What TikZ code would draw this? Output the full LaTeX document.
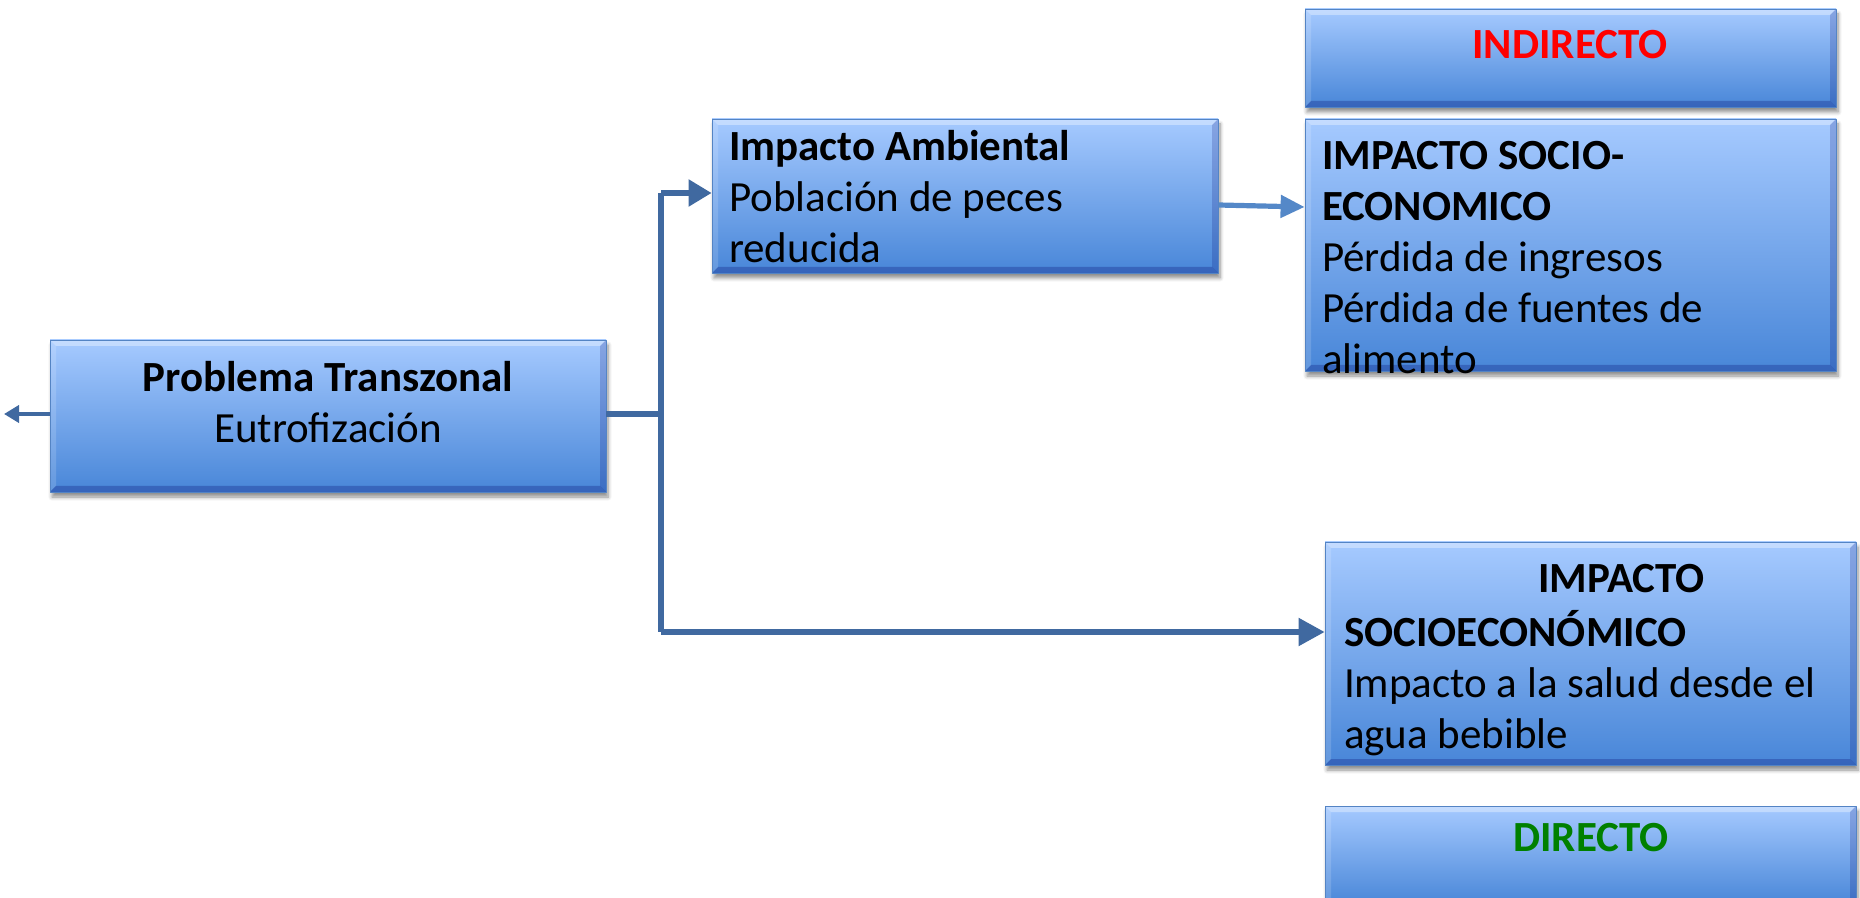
\documentclass[tikz,border=0pt]{standalone}
\usepackage{fontspec}
\setmainfont{Carlito}
\usetikzlibrary{arrows.meta,shadows.blur}
\definecolor{boxtop}{RGB}{166,202,255}
\definecolor{boxbot}{RGB}{72,134,216}
\definecolor{boxedge}{RGB}{84,132,196}
\definecolor{linkblue}{RGB}{64,105,160}
\definecolor{linkpale}{RGB}{84,136,200}
\definecolor{txtred}{RGB}{255,0,0}
\definecolor{txtgreen}{RGB}{0,128,0}
\begin{document}
\begin{tikzpicture}[x=0.5pt, y=-0.5pt, line join=round, >=Triangle,
		box/.style={rectangle, draw=boxedge, line width=0.4pt, inner sep=0pt,
			top color=boxtop, bottom color=boxbot,
			blur shadow={shadow xshift=1pt, shadow yshift=-2.5pt, shadow opacity=45, shadow blur steps=6},
			path picture={
				\fill[white,opacity=.35] (path picture bounding box.north west) -- (path picture bounding box.north east)
				-- ([xshift=-3pt,yshift=-3pt]path picture bounding box.north east) -- ([xshift=3pt,yshift=-3pt]path picture bounding box.north west) -- cycle;
				\fill[white,opacity=.15] (path picture bounding box.north west) -- (path picture bounding box.south west)
				-- ([xshift=3pt,yshift=3pt]path picture bounding box.south west) -- ([xshift=3pt,yshift=-3pt]path picture bounding box.north west) -- cycle;
				\fill[black!60!blue,opacity=.18] (path picture bounding box.north east) -- (path picture bounding box.south east)
				-- ([xshift=-3pt,yshift=3pt]path picture bounding box.south east) -- ([xshift=-3pt,yshift=-3pt]path picture bounding box.north east) -- cycle;
				\fill[black!60!blue,opacity=.25] (path picture bounding box.south west) -- (path picture bounding box.south east)
				-- ([xshift=-3pt,yshift=3pt]path picture bounding box.south east) -- ([xshift=3pt,yshift=3pt]path picture bounding box.south west) -- cycle;
			}},
		txt/.style={inner sep=0pt, font=\fontsize{21.5}{25.5}\selectfont},
		link/.style={draw=linkblue, line width=2.6pt}]
	\useasboundingbox (0,0) rectangle (1860,898);
	% cajas
	\node[box, minimum width=278pt, minimum height=76pt] (prob) at (328,416) {};
	\node[box, minimum width=253pt, minimum height=77pt] (amb) at (965,196) {};
	\node[box, minimum width=265.5pt, minimum height=49pt] (indir) at (1570.5,58) {};
	\node[box, minimum width=265.5pt, minimum height=126pt] (socio) at (1570.5,245) {};
	\node[box, minimum width=265.5pt, minimum height=111.5pt] (salud) at (1590.5,653.5) {};
	\node[box, minimum width=265.5pt, minimum height=49.5pt] (direc) at (1590.5,855.5) {};
	% textos
	\node[txt, align=center] (probtxt) at (328,402) {\textbf{Problema Transzonal}\\Eutrofización};
	\node[txt, align=left, anchor=north west] (ambtxt) at ([xshift=8.5pt,yshift=-3pt]amb.north west)
		{\strut\textbf{Impacto Ambiental}\\Población de peces\\reducida};
	\node[txt, text=txtred] (indirtxt) at (1570,45) {\textbf{INDIRECTO}};
	\node[txt, align=left, anchor=north west] (sociotxt) at ([xshift=8.5pt,yshift=-7.5pt]socio.north west)
		{\strut\textbf{IMPACTO SOCIO-}\\\textbf{ECONOMICO}\\Pérdida de ingresos\\Pérdida de fuentes de\\alimento};
	\node[txt, align=left, anchor=north west] (saludtxt) at ([xshift=9.5pt,yshift=-7.5pt]salud.north west)
		{\strut\hspace*{97pt}\textbf{IMPACTO}\\\textbf{SOCIOECONÓMICO}\\Impacto a la salud desde el\\agua bebible};
	\node[txt, text=txtgreen] (directxt) at (1591,838) {\textbf{DIRECTO}};
	% conectores
	\coordinate (out) at (4,414);
	\coordinate (top) at (661,193);
	\coordinate (bot) at (661,632);
	\draw[link, line width=2.4pt, -{Triangle[length=7.5pt,width=8.5pt]}] (prob.west |- out) -- (out);
	\draw[link] (prob.east |- out) -- (out -| top);
	\draw[link] (top) -- (bot);
	\draw[link, -{Triangle[length=11.5pt,width=13pt]}] (top) -- (top -| amb.west);
	\draw[link, -{Triangle[length=13pt,width=13.5pt]}] (bot) -- (bot -| salud.west);
	\draw[link, draw=linkpale, -{Triangle[length=12pt,width=11pt]}] ([yshift=-4.5pt]amb.east) -- ([yshift=-5.5pt]amb.east -| socio.west);
\end{tikzpicture}
\end{document}
